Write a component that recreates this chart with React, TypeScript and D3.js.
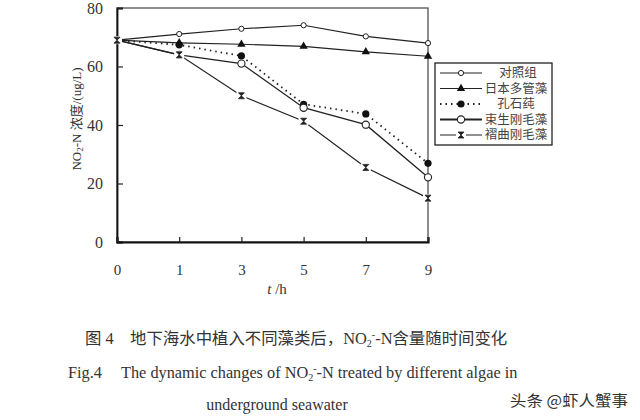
import React, { useRef, useEffect } from "react";
import * as d3 from "d3";

// time points (h) and NO2-N concentration (ug/L) per algae group
const hours = ["0", "1", "3", "5", "7", "9"];
const seriesNames = ["对照组", "日本多管藻", "孔石莼", "束生刚毛藻", "褶曲刚毛藻"];
const control = [69, 71.1, 72.9, 74.1, 70.3, 68.0];
const polysiphonia = [69, 68.1, 67.6, 66.9, 65.0, 63.5];
const ulva = [69, 67.4, 63.6, 47.1, 43.8, 26.9];
const cladoFasc = [69, 64.0, 61.0, 45.9, 40.1, 22.1];
const cladoCrisp = [69, 64.0, 50.0, 41.3, 25.5, 15.0];
const yTicks = [0, 20, 40, 60, 80];

const serif = "'Liberation Serif', 'Noto Sans CJK SC', serif";

type Marker = "smallOpen" | "triangle" | "dot" | "open" | "hourglass";
const seriesStyle: { width: number; dash: string | null; marker: Marker }[] = [
  { width: 1.2, dash: null, marker: "smallOpen" },
  { width: 1.2, dash: null, marker: "triangle" },
  { width: 1.8, dash: "1.5,4", marker: "dot" },
  { width: 1.3, dash: null, marker: "open" },
  { width: 1.2, dash: null, marker: "hourglass" },
];

const drawMarker = (g: d3.Selection<SVGGElement, unknown, null, undefined>, m: Marker) => {
  if (m === "smallOpen")
    g.append("circle").attr("r", 2.6).attr("fill", "#fff").attr("stroke", "#222").attr("stroke-width", 1);
  else if (m === "triangle")
    g.append("path").attr("d", d3.symbol(d3.symbolTriangle, 30)()!).attr("fill", "#111");
  else if (m === "dot") g.append("circle").attr("r", 3.6).attr("fill", "#111");
  else if (m === "open")
    g.append("circle").attr("r", 3.6).attr("fill", "#fff").attr("stroke", "#222").attr("stroke-width", 1.1);
  else {
    g.append("rect").attr("x", -5).attr("y", -4).attr("width", 10).attr("height", 8).attr("fill", "#fff");
    g.append("path").attr("d", "M-3,-3L3,-3L-3,3L3,3Z").attr("fill", "#222").attr("stroke", "#222").attr("stroke-width", 0.8);
  }
};

const Chart = () => {
  const ref = useRef<SVGSVGElement>(null);

  useEffect(() => {
    const svg = d3.select(ref.current);
    svg.selectAll("*").remove();
    const left = 117, right = 428, top = 8, bottom = 242;

    const x = d3.scalePoint<string>().domain(hours).range([left, right]);
    const y = d3.scaleLinear().domain([0, 80]).range([bottom, top]);

    // frame
    svg.append("rect").attr("x", left).attr("y", top).attr("width", right - left).attr("height", bottom - top)
      .attr("fill", "none").attr("stroke", "#444").attr("stroke-width", 1.2);

    const yAxis = svg.append("g").attr("transform", `translate(${left},0)`)
      .call(d3.axisLeft(y).tickValues(yTicks).tickSize(-6).tickPadding(14));
    yAxis.select(".domain").attr("stroke", "#111").attr("stroke-width", 1.8);
    yAxis.selectAll("line").attr("stroke", "#222").attr("stroke-width", 1.2);
    yAxis.selectAll("text").attr("font-family", serif).attr("font-size", 16).attr("fill", "#333");

    const xAxis = svg.append("g").attr("transform", `translate(0,${bottom})`)
      .call(d3.axisBottom(x).tickSize(-5).tickPadding(22));
    xAxis.select(".domain").attr("stroke", "#111").attr("stroke-width", 2.2);
    xAxis.selectAll("line").attr("stroke", "#222").attr("stroke-width", 1.2);
    xAxis.selectAll("text").attr("font-family", serif).attr("font-size", 15).attr("fill", "#333");

    // series lines
    const all = [control, polysiphonia, ulva, cladoFasc, cladoCrisp];
    const line = d3.line<number>().x((_, i) => x(hours[i])!).y((d) => y(d));
    all.forEach((vals, si) => {
      const st = seriesStyle[si];
      svg.append("path").datum(vals).attr("d", line).attr("fill", "none")
        .attr("stroke", "#222").attr("stroke-width", st.width)
        .attr("stroke-dasharray", st.dash);
    });
    all.forEach((vals, si) => {
      vals.forEach((v, i) => {
        const g = svg.append("g").attr("transform", `translate(${x(hours[i])},${y(v)})`);
        drawMarker(g, seriesStyle[si].marker);
      });
    });

    // legend
    const lg = svg.append("g");
    lg.append("rect").attr("x", 435).attr("y", 63).attr("width", 117).attr("height", 82)
      .attr("fill", "#fff").attr("stroke", "#222").attr("stroke-width", 1.3);
    const rowY = d3.scalePoint<string>().domain(seriesNames).range([73, 135]);
    seriesNames.forEach((name, si) => {
      const st = seriesStyle[si];
      const cy = rowY(name)!;
      lg.append("line").attr("x1", 440).attr("x2", 482).attr("y1", cy).attr("y2", cy)
        .attr("stroke", "#222").attr("stroke-width", si === 3 ? 2.2 : st.width)
        .attr("stroke-dasharray", st.dash);
      drawMarker(lg.append("g").attr("transform", `translate(461,${cy})`), st.marker);
      lg.append("text").attr("x", si === 0 ? 518 : 516).attr("y", cy).attr("dy", "0.35em")
        .attr("text-anchor", "middle").attr("font-family", serif).attr("font-size", 12.5)
        .attr("fill", "#444").text(name);
    });

    // y-axis title
    const yt = svg.append("text").attr("transform", "translate(81,119) rotate(-90)")
      .attr("text-anchor", "middle").attr("font-family", serif).attr("font-size", 13).attr("fill", "#333");
    yt.append("tspan").text("NO");
    yt.append("tspan").attr("font-size", 9).attr("dy", 2).text("2");
    yt.append("tspan").attr("dy", -2).text("-N 浓度/(ug/L)");

    // x-axis title
    const xt = svg.append("text").attr("x", 277).attr("y", 294).attr("text-anchor", "middle")
      .attr("font-family", serif).attr("font-size", 15).attr("fill", "#333");
    xt.append("tspan").attr("font-style", "italic").text("t");
    xt.append("tspan").text(" /h");
  }, []);

  return <svg ref={ref} width={640} height={420} style={{ position: "absolute", left: 0, top: 0, background: "#fff" }} />;
};

const Caption = () => (
  <g fontFamily={serif} fill="#333">
    <text x={85} y={344} fontSize={16.4}>
      图 4{"\u3000"}地下海水中植入不同藻类后，NO<tspan fontSize={10} dy={3}>2</tspan>
      <tspan fontSize={10} dy={-9}>-</tspan>
      <tspan dy={6}>-N含量随时间变化</tspan>
    </text>
    <text x={68} y={378} fontSize={16.3}>Fig.4</text>
    <text x={121} y={378} fontSize={16.3}>
      The dynamic changes of NO<tspan fontSize={10} dy={3}>2</tspan>
      <tspan fontSize={10} dy={-9}>-</tspan>
      <tspan dy={6}>-N treated by different algae in</tspan>
    </text>
    <text x={277} y={410} fontSize={16} textAnchor="middle">underground seawater</text>
  </g>
);

export default function App() {
  return (
    <div style={{ position: "absolute", left: 0, top: 0, width: 640, height: 420, background: "#fff" }}>
      <Chart />
      <svg width={640} height={420} style={{ position: "absolute", left: 0, top: 0 }}>
        <Caption />
        <text x={510} y={406} fontFamily="'Noto Sans CJK SC', sans-serif" fontSize={15} fill="#333"
          textLength={118} lengthAdjust="spacingAndGlyphs">头条 @虾人蟹事</text>
      </svg>
    </div>
  );
}
